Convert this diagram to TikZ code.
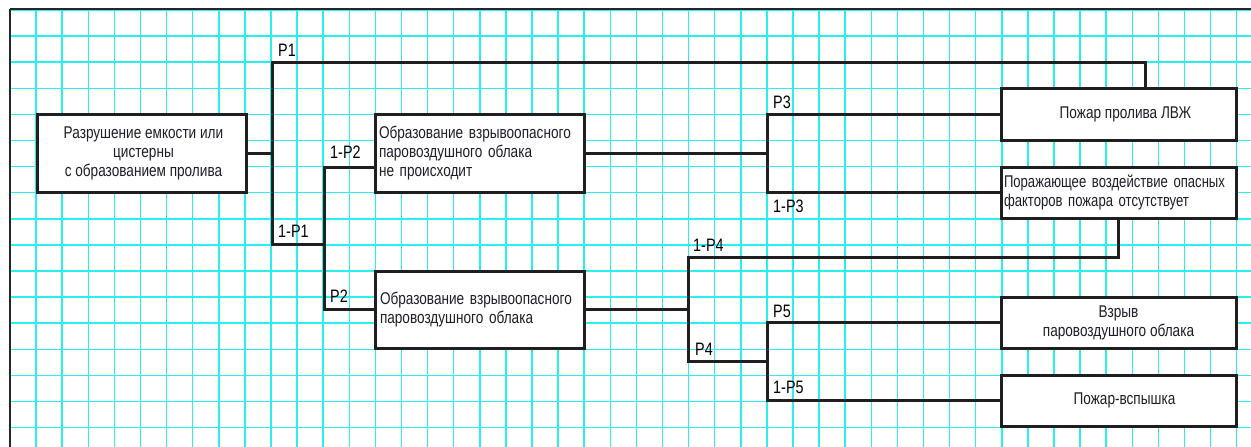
\documentclass[tikz,border=0pt]{standalone}
\usepackage{fontspec}
\setmainfont{Liberation Sans}[FakeStretch=0.8]
\newfontfamily\narrowfont{Liberation Sans}[FakeStretch=0.77]
\definecolor{gridc}{RGB}{40,240,240}
\definecolor{inkc}{RGB}{30,30,40}
\begin{document}
\begin{tikzpicture}[x=1pt,y=-1pt,
  gridline/.style={draw=gridc,line width=1.5pt},
  box/.style={draw=black!88,fill=white,line width=3pt,inner sep=0pt,font=\fontsize{17}{19}\selectfont,text=inkc},
  conn/.style={draw=black!88,line width=3pt},
  lbl/.style={anchor=base west,inner sep=0pt,font=\fontsize{18}{19}\selectfont,text=black}]
\useasboundingbox (0,0) rectangle (1251,447);
\fill[white] (0,0) rectangle (1251,447);
% grid
\draw[gridline] \foreach \i in {0,...,47} {(10+26.1*\i,10) -- (10+26.1*\i,447)}
  \foreach \j in {0,...,16} {(10,10+26.1*\j) -- (1251,10+26.1*\j)};
\draw[black!85,line width=2pt] (10,9) -- (1251,9);
\draw[black!85,line width=2.5pt] (10,9) -- (10,447);
% boxes
\node[box,minimum width=209pt,minimum height=78pt,align=center] (A) at (141.5,153)
  {\hspace*{4pt}Разрушение емкости или\\\hspace*{4pt}цистерны\\\hspace*{4pt}с образованием пролива};
\node[box,minimum width=209pt,minimum height=78pt,text width=201pt,inner xsep=4pt,align=left] (B1) at (479.5,153)
  {Образование взрывоопасного\\паровоздушного облака\\не происходит};
\node[box,minimum width=209pt,minimum height=77pt,text width=199pt,inner xsep=5pt,align=left] (B2) at (479.5,309.5)
  {Образование взрывоопасного\\паровоздушного облака};
\node[box,minimum width=235pt,minimum height=52pt,align=center] (C1) at (1118.5,114)
  {\hspace*{14pt}Пожар пролива ЛВЖ};
\node[box,minimum width=235pt,minimum height=51pt,text width=233pt,inner xsep=1pt,align=left,font=\narrowfont\fontsize{17}{19}\selectfont] (C2) at (1118.5,192.5)
  {\hspace*{2pt}Поражающее воздействие опасных\\\hspace*{2pt}факторов пожара отсутствует};
\node[box,minimum width=235pt,minimum height=51pt,align=center] (D1) at (1118.5,322.5)
  {Взрыв\\паровоздушного облака};
\node[box,minimum width=235pt,minimum height=51pt,align=center] (D2) at (1118.5,400.5)
  {\hspace*{12pt}Пожар-вспышка};
% junction coordinates
\coordinate (t1) at (272,62);
\coordinate (t2) at (272,244);
\coordinate (c1top) at (1145,62);
\coordinate (u1) at (324,167);
\coordinate (u2) at (324,309.5);
\coordinate (v1) at (767,114);
\coordinate (v2) at (767,192.5);
\coordinate (w1) at (688,257);
\coordinate (w2) at (688,361);
\coordinate (x1) at (767,322.5);
\coordinate (x2) at (767,400.5);
% connectors
\draw[conn] (A.east) -- (A.east -| t1);
\draw[conn] (c1top |- C1.north) -- (c1top) -- (t1) -- (t2) -- (t2 -| u1);
\draw[conn] (B1.west |- u1) -- (u1) -- (u2) -- (B2.west);
\draw[conn] (B1.east) -- (B1.east -| v1);
\draw[conn] (C1.west) -- (v1) -- (v2) -- (C2.west);
\draw[conn] (C2.south) -- (C2.south |- w1) -- (w1) -- (w2) -- (w2 -| x1);
\draw[conn] (B2.east) -- (B2.east -| w1);
\draw[conn] (D1.west) -- (x1) -- (x2) -- (D2.west);
% labels
\node[lbl] (lp1) at (278,56) {P1};
\node[lbl] (l1p1) at (278,237) {1-P1};
\node[lbl] (l1p2) at (330,158) {1-P2};
\node[lbl] (lp2) at (330,302) {P2};
\node[lbl] (lp3) at (773,108) {P3};
\node[lbl] (l1p3) at (773,212) {1-P3};
\node[lbl] (l1p4) at (693,251) {1-P4};
\node[lbl] (lp4) at (695,355) {P4};
\node[lbl] (lp5) at (773,317) {P5};
\node[lbl] (l1p5) at (773,393) {1-P5};
\end{tikzpicture}
\end{document}
